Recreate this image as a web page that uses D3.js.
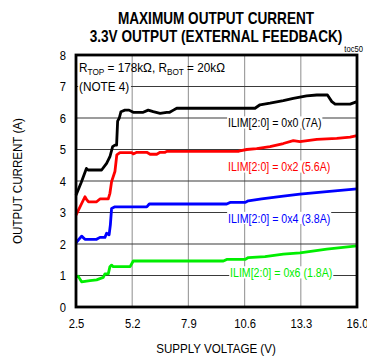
<!DOCTYPE html>
<html><head><meta charset="utf-8">
<script src="https://cdn.jsdelivr.net/npm/d3@7"></script>
<style>
body{margin:0;background:#fff;}
text{font-family:"Liberation Sans",Arial,sans-serif;}
</style>
</head><body>
<svg id="c" width="367" height="358"></svg>
<script>
const titleLines = ["MAXIMUM OUTPUT CURRENT", "3.3V OUTPUT (EXTERNAL FEEDBACK)"];
const xTicks = [2.5, 5.2, 7.9, 10.6, 13.3, 16.0];
const yTicks = [0, 1, 2, 3, 4, 5, 6, 7, 8];
const xTitle = "SUPPLY VOLTAGE (V)";
const yTitle = "OUTPUT CURRENT (A)";

const v0x0 = [2.5,2.75,3.0,3.08,3.73,3.97,4.13,4.26,4.37,4.45,4.5,4.58,4.66,4.85,5.05,5.25,5.73,5.97,6.21,6.54,6.86,7.0,7.18,7.34,11.1,11.34,11.82,12.46,12.94,13.58,14.07,14.58,14.79,14.95,15.67,16.0];
const i0x0 = [3.55,3.95,4.40,4.35,4.35,4.56,4.77,5.09,5.14,5.14,5.9,6.0,6.2,6.25,6.25,6.18,6.18,6.25,6.2,6.15,6.18,6.18,6.25,6.31,6.31,6.42,6.47,6.55,6.62,6.70,6.73,6.73,6.52,6.44,6.44,6.52];

const v0x2 = [2.5,2.93,3.02,3.1,3.49,3.65,4.05,4.13,4.21,4.37,4.46,4.61,5.18,5.25,5.42,5.9,6.06,6.38,6.54,6.78,6.86,10.3,10.38,10.7,11.18,11.82,12.46,12.94,13.26,14.07,15.03,15.67,16.0];
const i0x2 = [2.92,3.5,3.4,3.34,3.34,3.43,3.43,3.61,3.98,4.30,4.83,4.90,4.90,4.86,4.91,4.91,4.85,4.85,4.91,4.91,4.94,4.94,4.96,5.0,5.03,5.09,5.19,5.28,5.25,5.32,5.35,5.39,5.44];

const v0x4 = [2.5,2.77,2.93,3.49,3.65,3.89,3.97,4.09,4.15,4.21,4.37,5.9,6.02,9.74,9.9,10.62,10.78,11.42,12.46,13.26,14.55,16.0];
const i0x4 = [2.04,2.25,2.15,2.15,2.21,2.21,2.34,2.29,2.6,3.13,3.18,3.18,3.27,3.27,3.32,3.32,3.37,3.43,3.52,3.58,3.66,3.75];

const v0x6 = [2.5,2.6,2.77,3.17,3.49,3.81,3.89,4.05,4.13,4.21,4.29,5.1,5.25,9.58,9.74,10.62,10.78,11.58,12.46,13.26,14.55,16.0];
const i0x6 = [0.94,0.98,0.80,0.84,0.86,0.94,1.05,1.05,1.28,1.33,1.28,1.28,1.46,1.46,1.51,1.51,1.57,1.60,1.68,1.72,1.84,1.94];

const seriesNames = ["ILIM[2:0] = 0x0 (7A)", "ILIM[2:0] = 0x2 (5.6A)", "ILIM[2:0] = 0x4 (3.8A)", "ILIM[2:0] = 0x6 (1.8A)"];
const seriesColors = ["#000000", "#ff0000", "#0000ff", "#00ee00"];
const labelV = [9.8, 9.8, 9.8, 9.9];
const labelI = [5.85, 4.45, 2.82, 1.09];

const series = [
  {name: seriesNames[0], color: seriesColors[0], v: v0x0, i: i0x0},
  {name: seriesNames[1], color: seriesColors[1], v: v0x2, i: i0x2},
  {name: seriesNames[2], color: seriesColors[2], v: v0x4, i: i0x4},
  {name: seriesNames[3], color: seriesColors[3], v: v0x6, i: i0x6}
];

const svg = d3.select("#c");
const L = 76, R = 357, T = 55, B = 307;
const x = d3.scaleLinear().domain([2.5, 16.0]).range([L, R]);
const y = d3.scaleLinear().domain([0, 8]).range([B, T]);
const SQ = 0.83;

// group positioned at (px,py), horizontally squeezed (narrow font look)
function narrowGroup(px, py, sx, extra) {
  return svg.append("g").attr("transform", `translate(${px},${py}) ${extra || ""} scale(${sx},1)`);
}

// titles
titleLines.forEach((t, k) => {
  narrowGroup(216, 23.5 + k*18, 0.85).append("text")
    .attr("text-anchor","middle").attr("font-weight","bold").attr("font-size",16).text(t);
});

// grid
svg.append("g").selectAll("line").data(xTicks.slice(1,-1)).enter().append("line")
  .attr("x1", d => x(d)).attr("x2", d => x(d)).attr("y1", T).attr("y2", B)
  .attr("stroke", "#a0a0a0").attr("stroke-width", 1.2);
svg.append("g").selectAll("line").data(yTicks.slice(1,-1)).enter().append("line")
  .attr("x1", L).attr("x2", R).attr("y1", d => y(d)).attr("y2", d => y(d))
  .attr("stroke", "#3a3a3a").attr("stroke-width", 1.2);

// axes (labels only)
const xAxis = d3.axisBottom(x).tickValues(xTicks).tickFormat(d3.format(".1f")).tickSize(0).tickPadding(11);
const gx = svg.append("g").attr("transform", `translate(0,${B})`).call(xAxis);
gx.select(".domain").remove();
gx.selectAll("text").attr("font-size", 13.5).attr("fill","#000").attr("font-family", null)
  .attr("transform", `scale(${SQ},1)`);
const yAxis = d3.axisLeft(y).tickValues(yTicks).tickFormat(d3.format("d")).tickSize(0).tickPadding(0);
const gy = svg.append("g").attr("transform", `translate(${L},0)`).call(yAxis);
gy.select(".domain").remove();
gy.selectAll("text").attr("font-size", 13.5).attr("fill","#000").attr("font-family", null)
  .attr("x", 0).attr("transform", `translate(-10,0) scale(${SQ},1)`);

// axis titles
narrowGroup(216, 353, 0.86).append("text").attr("text-anchor","middle").attr("font-size", 13.5).text(xTitle);
narrowGroup(22, (T+B)/2, 0.86, "rotate(-90)").append("text").attr("text-anchor","middle").attr("font-size", 13.5).text(yTitle);

// series lines
const line = d3.line().x(d => x(d[0])).y(d => y(d[1]));
series.forEach(s => {
  svg.append("path").datum(s.v.map((v,k) => [v, s.i[k]]))
    .attr("d", line).attr("fill","none").attr("stroke", s.color)
    .attr("stroke-width", 2.8).attr("stroke-linejoin","round");
});

// series labels with white background
series.forEach((s,k) => {
  const g = narrowGroup(x(labelV[k]), y(labelI[k]), SQ);
  const t = g.append("text").attr("dy", "0.36em").attr("font-size", 12.8).attr("fill", s.color).text(s.name);
  const bb = t.node().getBBox();
  g.insert("rect","text").attr("x", bb.x - 1).attr("y", bb.y + 1).attr("width", bb.width + 2)
    .attr("height", bb.height - 2).attr("fill","#fff");
});

// note box
const ng = narrowGroup(L + 3, 0, 0.87);
const n1 = ng.append("text").attr("y", 72).attr("font-size", 13.5);
n1.append("tspan").text("R");
n1.append("tspan").attr("font-size", 9.5).attr("dy", 3).text("TOP");
n1.append("tspan").attr("dy", -3).text(" = 178k\u03A9, R");
n1.append("tspan").attr("font-size", 9.5).attr("dy", 3).text("BOT");
n1.append("tspan").attr("dy", -3).text(" = 20k\u03A9");
const n2 = ng.append("text").attr("y", 91).attr("font-size", 13.5).text("(NOTE 4)");
const b2 = n2.node().getBBox();
ng.insert("rect","text").attr("x", -1).attr("y", b2.y + 1).attr("width", b2.width + 3).attr("height", b2.height - 2).attr("fill","#fff");

// frame
svg.append("rect").attr("x", L).attr("y", T).attr("width", R-L).attr("height", B-T)
  .attr("fill","none").attr("stroke","#000").attr("stroke-width", 2.8);

// toc label
narrowGroup(363, 52, 0.9).append("text").attr("text-anchor","end").attr("font-size", 8.5).text("toc50");
</script>
</body></html>
